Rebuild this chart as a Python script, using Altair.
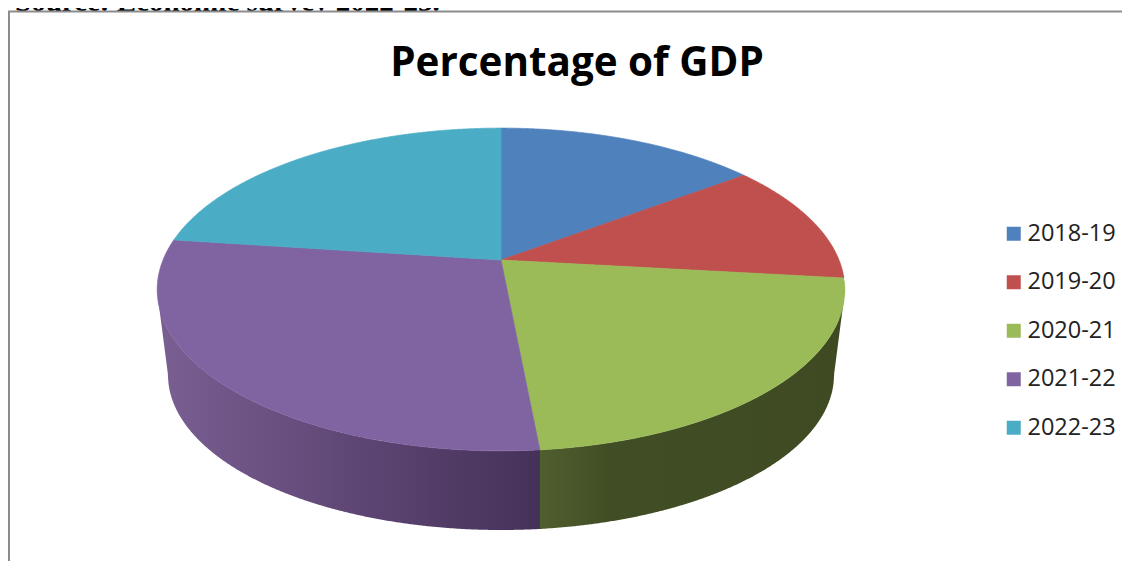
import numpy as np
import pandas as pd
import altair as alt

YEARS = ["2018-19", "2019-20", "2020-21", "2021-22", "2022-23"]
SHARES = [14.7, 12.1, 21.7, 28.6, 22.9]
COLORS = ["#4F81BD", "#C0504D", "#9BBB59", "#8064A2", "#4BACC6"]
TITLE = "Percentage of GDP"
SOURCE = "Source: Economic survey 2022-23."

# Perspective of the tilted pie, in picture units
CX, CY, K, DY, AX = 501.0, 260.0, -0.1827, 156.0, 338.0
RIM_CY, RIM_RY, RIM_RX = 375.0, 155.0, 333.0


def rim(a):
    u, v = np.sin(a), -np.cos(a)
    w = 1 + K * v
    return CX + AX * u / w, CY + DY * v / w


def envelope(px, py):
    grid = np.unique(np.concatenate([np.linspace(px.min(), px.max(), 260), px[::10]]))
    x0, y0 = px, py
    x1, y1 = np.roll(px, -1), np.roll(py, -1)
    rows = []
    for g in grid:
        ys = []
        for a, b, c, d in zip(x0, y0, x1, y1):
            lo, hi = min(a, c), max(a, c)
            if lo <= g <= hi:
                if a == c:
                    ys += [b, d]
                else:
                    ys.append(b + (d - b) * (g - a) / (c - a))
        if ys:
            rows.append((g, min(ys), max(ys)))
    return rows


edges = np.cumsum([0] + SHARES) / sum(SHARES) * 2 * np.pi
rows = []
for year, a0, a1 in zip(YEARS, edges[:-1], edges[1:]):
    ang = np.linspace(a0, a1, 240)
    rx, ry = rim(ang)
    px = np.concatenate([[CX], rx])
    py = np.concatenate([[CY], ry])
    for g, lo, hi in envelope(px, py):
        rows.append({"year": year, "x": g, "y": lo, "y2": hi})
top = pd.DataFrame(rows)

# Side wall of the disc: from the near rim of the top down to the lower rim
split_x = float(rim(edges[3])[0])
aw = np.linspace(np.pi * 0.5, np.pi * 1.5, 900)
wx, wy = rim(aw)


def lower_edge(x):
    t = np.clip((x - CX) / RIM_RX, -1, 1)
    base = RIM_CY + RIM_RY * np.sqrt(1 - t * t)
    left, right = CX - RIM_RX, CX + RIM_RX
    xl, xr = wx.min(), wx.max()
    if x < left:
        return 292 + (x - xl) / (left - xl) * (RIM_CY - 292)
    if x > right:
        return 292 + (xr - x) / (xr - right) * (RIM_CY - 292)
    return base


order = np.argsort(wx)
gx = np.unique(np.concatenate([wx[order], [split_x]]))
wall = pd.DataFrame({"x": gx, "y": np.interp(gx, wx[order], wy[order])})
wall["y2"] = [lower_edge(v) for v in wall["x"]]
wall_left = wall[wall["x"] <= split_x + 3]
wall_right = wall[wall["x"] >= split_x]

xs = alt.Scale(domain=[8, 1122], range=[0, 1114], nice=False, zero=False)
ys = alt.Scale(domain=[8, 561], range=[0, 553], nice=False, zero=False)
X = alt.X("x:Q", scale=xs, axis=None)
Y = alt.Y("y:Q", scale=ys, axis=None, stack=None)


def grad(stops):
    return alt.Gradient(gradient="linear", x1=0, x2=1, y1=0, y2=0,
                        stops=[alt.GradientStop(offset=o, color=c) for o, c in stops])


purple_wall = alt.Chart(wall_left).mark_area(
    orient="vertical",
    color=grad([(0, "#7A5F93"), (0.5, "#5F4775"), (1, "#443158")]),
).encode(x=X, y=Y, y2="y2:Q")
green_wall = alt.Chart(wall_right).mark_area(
    orient="vertical",
    color=grad([(0, "#505F2E"), (0.22, "#414E25"), (1, "#3F4A22")]),
).encode(x=X, y=Y, y2="y2:Q")

cs = alt.Scale(domain=YEARS, range=COLORS)
slices = alt.Chart(top).mark_area(orient="vertical", strokeWidth=0.7).encode(
    x=X, y=Y, y2="y2:Q",
    detail="year:N",
    stroke=alt.Stroke("year:N", scale=cs, legend=None),
    color=alt.Color("year:N", scale=cs, legend=alt.Legend(
        title=None, orient="none", legendX=994, legendY=214,
        symbolType="square", symbolSize=196, symbolStrokeWidth=0, symbolOpacity=1,
        labelFont="Open Sans", labelFontSize=23.5, labelColor="#222222",
        labelOffset=2, rowPadding=23.5, padding=0, labelLimit=200,
    )),
)

frame_top = alt.Chart(pd.DataFrame({"x": [8], "x2": [1122], "y": [11.5]})).mark_rule(
    color="#8C8C8C", strokeWidth=2).encode(x=X, x2="x2:Q", y=Y)
frame_left = alt.Chart(pd.DataFrame({"x": [9], "y": [11], "y2": [561]})).mark_rule(
    color="#8C8C8C", strokeWidth=2).encode(x=X, y=Y, y2="y2:Q")
panel = alt.Chart(pd.DataFrame({"x": [9], "x2": [1122], "y": [11], "y2": [561]})).mark_rect(
    color="#FFFFFF").encode(x=X, x2="x2:Q", y=Y, y2="y2:Q")

title = alt.Chart(pd.DataFrame({"x": [577], "y": [64], "t": [TITLE]})).mark_text(
    font="Open Sans", fontSize=40.4, fontWeight="bold", color="#000000", align="center", baseline="middle"
).encode(x=X, y=Y, text="t:N")
source = alt.Chart(pd.DataFrame({"x": [15], "y": [11], "t": [SOURCE]})).mark_text(
    font="Liberation Serif", fontSize=29, fontWeight="bold", color="#000000", align="left", baseline="alphabetic"
).encode(x=X, y=Y, text="t:N")

chart = alt.layer(source, panel, purple_wall, green_wall, slices, frame_top, frame_left, title).resolve_scale(
    stroke="shared", color="shared"
).properties(width=1114, height=553, padding=0, autosize="none", background="#FFFFFF").configure_view(stroke=None)

chart.save("out.html", embed_options={"renderer": "svg", "actions": False})
